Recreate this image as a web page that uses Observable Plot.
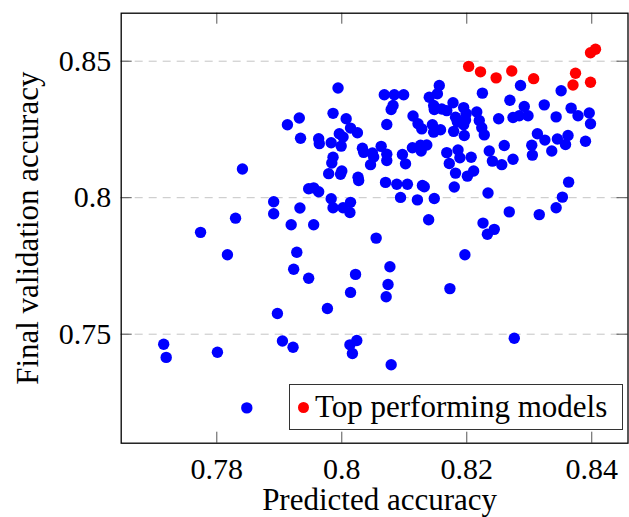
<!DOCTYPE html>
<html><head><meta charset="utf-8">
<script src="https://cdn.jsdelivr.net/npm/d3@7"></script>
<script src="https://cdn.jsdelivr.net/npm/@observablehq/plot@0.6"></script>
<style>
body{margin:0;background:#fff;}
#wrap{position:relative;width:629px;height:517px;}
#legend{position:absolute;left:289px;top:384px;width:334px;height:46px;box-sizing:border-box;border:1.3px solid #333;background:#fff;display:flex;align-items:center;font-family:"Liberation Serif",serif;font-size:31px;color:#000;}
#legend .dot{display:inline-block;width:11px;height:11px;border-radius:50%;background:#ff0000;margin-left:8px;margin-right:6px;}
</style></head><body><div id="wrap"></div><script>
const xLabel = "Predicted accuracy";
const yLabel = "Final validation accuracy";
const legendLabel = "Top performing models";
const xTicks = [0.78, 0.8, 0.82, 0.84];
const yTicks = [0.75, 0.8, 0.85];

const blueX = [0.7715,0.7719,0.7774,0.7801,0.7817,0.7830,0.7841,0.7848,0.7891,0.7891,0.7897,0.7905,0.7913,0.7919,0.7922,0.7923,0.7928,0.7932,0.7933,0.7934,0.7947,0.7947,0.7955,0.7955,0.7963,0.7963,0.7964,0.7977,0.7979,0.7983,0.7983,0.7986,0.7986,0.7984,0.7986,0.7994,0.7996,0.8002,0.7999,0.7998,0.8000,0.8002,0.8013,0.8014,0.8007,0.8014,0.8025,0.8014,0.8013,0.8024,0.8017,0.8022,0.8026,0.8027,0.8033,0.8035,0.8049,0.8051,0.8046,0.8055,0.8063,0.8068,0.8072,0.8072,0.8072,0.8070,0.8071,0.8074,0.8077,0.8079,0.8082,0.8079,0.8084,0.8088,0.8094,0.8097,0.8102,0.8099,0.8105,0.8113,0.8114,0.8121,0.8122,0.8126,0.8127,0.8128,0.8129,0.8132,0.8136,0.8139,0.8140,0.8147,0.8148,0.8145,0.8147,0.8148,0.8153,0.8156,0.8158,0.8160,0.8168,0.8168,0.8172,0.8173,0.8178,0.8182,0.8185,0.8179,0.8180,0.8182,0.8186,0.8189,0.8195,0.8196,0.8195,0.8199,0.8198,0.8197,0.8201,0.8207,0.8211,0.8216,0.8220,0.8224,0.8225,0.8226,0.8228,0.8233,0.8234,0.8236,0.8241,0.8244,0.8251,0.8256,0.8260,0.8269,0.8268,0.8274,0.8274,0.8276,0.8286,0.8284,0.8292,0.8298,0.8304,0.8305,0.8313,0.8316,0.8324,0.8325,0.8336,0.8343,0.8343,0.8345,0.8351,0.8353,0.8358,0.8362,0.8363,0.8367,0.8378,0.8390,0.8396,0.8398];
const blueY = [0.7463,0.7415,0.7873,0.7434,0.7791,0.7925,0.8105,0.7230,0.7985,0.7941,0.7576,0.7475,0.8267,0.7901,0.7452,0.7738,0.7800,0.8292,0.7962,0.8218,0.7705,0.8033,0.8036,0.7901,0.8022,0.8216,0.8198,0.7594,0.8088,0.8201,0.7996,0.7963,0.8148,0.8127,0.8309,0.8402,0.8234,0.8222,0.8189,0.8086,0.8098,0.7963,0.7946,0.7983,0.8289,0.8255,0.8238,0.7653,0.7461,0.7477,0.7429,0.7719,0.8075,0.8063,0.8181,0.8166,0.8164,0.8149,0.8121,0.7852,0.8188,0.8377,0.8268,0.8159,0.8136,0.8056,0.7637,0.7682,0.7747,0.8323,0.8338,0.7388,0.8377,0.8049,0.8001,0.8158,0.8124,0.8377,0.8049,0.8183,0.8299,0.7992,0.8271,0.8192,0.8171,0.8252,0.8045,0.8040,0.8193,0.7919,0.8368,0.8338,0.8323,0.8267,0.8240,0.7997,0.8381,0.8411,0.8249,0.8325,0.8319,0.8165,0.8125,0.7667,0.8348,0.8295,0.8277,0.8243,0.8039,0.8090,0.8175,0.8146,0.8267,0.8228,0.8330,0.8308,0.8285,0.7791,0.8079,0.8148,0.8098,0.8314,0.8283,0.8256,0.8383,0.7907,0.8230,0.7866,0.8017,0.8171,0.8134,0.7884,0.8289,0.8121,0.8191,0.8357,0.7948,0.8294,0.8141,0.7485,0.8411,0.8300,0.8334,0.8300,0.8192,0.8156,0.8234,0.7938,0.8340,0.8211,0.8171,0.8296,0.7963,0.8215,0.8392,0.8002,0.8195,0.8228,0.8057,0.8328,0.8300,0.8207,0.8310,0.8271];

const redX = [0.8203,0.8222,0.8247,0.8272,0.8307,0.8374,0.8370,0.8398,0.8398,0.8406];
const redY = [0.8481,0.8461,0.8439,0.8464,0.8436,0.8456,0.8413,0.8423,0.8531,0.8544];

const blue = blueX.map((x, i) => ({x, y: blueY[i]}));
const red = redX.map((x, i) => ({x, y: redY[i]}));

const W = 629, H = 517, mL = 120.7, mR = 1.5, mT = 12.7, mB = 74.3;
const plotW = W - mL - mR, plotH = H - mT - mB, tickLen = 11;
const fmt = d => String(d);

const chart = Plot.plot({
  width: W, height: H,
  marginLeft: mL, marginRight: mR, marginTop: mT, marginBottom: mB,
  x: {domain: [0.7647, 0.8458]},
  y: {domain: [0.71007, 0.86758]},
  style: {fontFamily: "'Liberation Serif', serif", fontSize: "30px", color: "#000", background: "#fff"},
  marks: [
    Plot.ruleY(yTicks, {y: d => d, stroke: "#c4c4c4", strokeWidth: 1, strokeDasharray: "8,6"}),
    Plot.ruleX(xTicks, {x: d => d, insetTop: plotH - tickLen, stroke: "#555"}),
    Plot.ruleX(xTicks, {x: d => d, insetBottom: plotH - tickLen, stroke: "#555"}),
    Plot.ruleY(yTicks, {y: d => d, insetRight: plotW - tickLen, stroke: "#555"}),
    Plot.ruleY(yTicks, {y: d => d, insetLeft: plotW - tickLen, stroke: "#555"}),
    Plot.dot(blue, {x: "x", y: "y", r: 5.7, fill: "#0000ff", stroke: null}),
    Plot.dot(red, {x: "x", y: "y", r: 5.7, fill: "#ff0000", stroke: null}),
    Plot.frame({stroke: "#000", strokeWidth: 1.3}),
    Plot.axisX(xTicks, {tickSize: 0, tickPadding: 14, tickFormat: fmt, fontSize: 30, label: null}),
    Plot.axisY(yTicks, {tickSize: 0, tickPadding: 10, tickFormat: fmt, fontSize: 30, label: null}),
    Plot.text([xLabel], {text: d => d, frameAnchor: "bottom", lineAnchor: "middle", textAnchor: "middle", dy: 57, dx: 5, fontSize: 31}),
    Plot.text([yLabel], {text: d => d, frameAnchor: "left", lineAnchor: "middle", textAnchor: "middle", rotate: -90, dx: -93, fontSize: 31})
  ]
});
const wrap = document.getElementById("wrap");
wrap.appendChild(chart);
const lg = document.createElement("div");
lg.id = "legend";
lg.innerHTML = '<span class="dot"></span><span></span>';
lg.lastChild.textContent = legendLabel;
wrap.appendChild(lg);
</script></body></html>
